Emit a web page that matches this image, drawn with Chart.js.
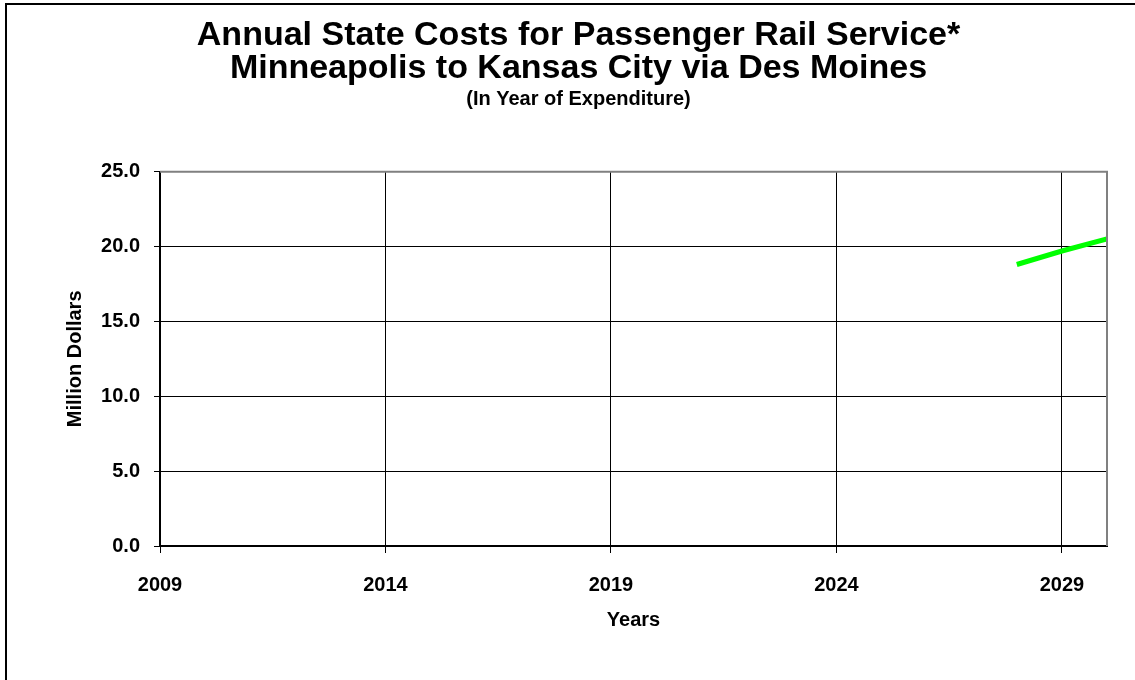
<!DOCTYPE html>
<html lang="en">
<head>
    <meta charset="UTF-8">
    <title>Annual State Costs for Passenger Rail Service</title>
    <script src="https://cdn.jsdelivr.net/npm/chart.js"></script>
    <style>
        html, body { margin: 0; padding: 0; background: #fff; }
        #wrap { width: 1135px; height: 680px; position: relative; }
    </style>
</head>
<body>
<div id="wrap"><canvas id="costChart" width="1135" height="680"></canvas></div>

<script>
    // data
    const years = [2028, 2029, 2030];
    const costs = [18.8, 19.7, 20.5];
    const yearTicks = [2009, 2014, 2019, 2024, 2029];
    const costTicks = [0, 5, 10, 15, 20, 25];

    const titleLines = [
        "Annual State Costs for Passenger Rail Service*",
        "Minneapolis to Kansas City via Des Moines"
    ];
    const subtitleText = "(In Year of Expenditure)";

    // frame on left/top edges + grey plot border on right/top
    const framePlugin = {
        id: "frame",
        beforeDraw(chart) {
            const ctx = chart.ctx;
            ctx.save();
            ctx.fillStyle = "#fff";
            ctx.fillRect(0, 0, chart.width, chart.height);
            ctx.strokeStyle = "#000";
            ctx.lineWidth = 2;
            ctx.beginPath();
            ctx.moveTo(6, chart.height);
            ctx.lineTo(6, 4);
            ctx.lineTo(chart.width, 4);
            ctx.stroke();
            ctx.restore();
        },
        afterDatasetsDraw(chart) {
            const a = chart.chartArea;
            const ctx = chart.ctx;
            ctx.save();
            ctx.strokeStyle = "#808080";
            ctx.lineWidth = 2;
            ctx.beginPath();
            ctx.moveTo(a.left, a.top);
            ctx.lineTo(a.right, a.top);
            ctx.lineTo(a.right, a.bottom);
            ctx.stroke();
            ctx.restore();
        }
    };

    const font = "'Liberation Sans', Arial, sans-serif";

    new Chart(document.getElementById("costChart"), {
        type: "line",
        data: {
            datasets: [{
                label: "State cost",
                data: years.map((y, i) => ({ x: y, y: costs[i] })),
                borderColor: "#00ff00",
                borderWidth: 5,
                pointRadius: 0,
                tension: 0
            }]
        },
        options: {
            responsive: false,
            animation: false,
            layout: { padding: { left: 50, right: 28, top: 0, bottom: 0 } },
            plugins: {
                legend: { display: false },
                tooltip: { enabled: false },
                title: {
                    display: true,
                    text: titleLines,
                    color: "#000",
                    font: { family: font, size: 34, weight: "bold", lineHeight: 0.98 },
                    padding: { top: 19, bottom: 2 }
                },
                subtitle: {
                    display: true,
                    text: subtitleText,
                    color: "#000",
                    font: { family: font, size: 20, weight: "bold" },
                    padding: { top: 0, bottom: 60 }
                }
            },
            scales: {
                x: {
                    type: "linear",
                    min: 2009,
                    max: 2030,
                    afterBuildTicks: s => { s.ticks = yearTicks.map(v => ({ value: v })); },
                    afterFit: s => { s.height = 134; },
                    ticks: {
                        color: "#000",
                        font: { family: font, size: 20, weight: "bold" },
                        padding: 20,
                        maxRotation: 0,
                        callback: v => String(v)
                    },
                    grid: { color: "#000", lineWidth: 1, tickLength: 7, drawTicks: true },
                    border: { color: "#000", width: 2 },
                    title: {
                        display: true,
                        text: "Years",
                        color: "#000",
                        font: { family: font, size: 20, weight: "bold" },
                        padding: { top: 0, bottom: 48 }
                    }
                },
                y: {
                    min: 0,
                    max: 25,
                    afterBuildTicks: s => { s.ticks = costTicks.map(v => ({ value: v })); },
                    afterFit: s => { s.width = 110; },
                    ticks: {
                        color: "#000",
                        font: { family: font, size: 20, weight: "bold" },
                        padding: 14,
                        callback: v => v.toFixed(1)
                    },
                    grid: { color: "#000", lineWidth: 1, tickLength: 6, drawTicks: true },
                    border: { color: "#000", width: 2 },
                    title: {
                        display: true,
                        text: "Million Dollars",
                        color: "#000",
                        font: { family: font, size: 20, weight: "bold" },
                        padding: { top: 13, bottom: 0 }
                    }
                }
            }
        },
        plugins: [framePlugin]
    });
</script>
</body>
</html>
